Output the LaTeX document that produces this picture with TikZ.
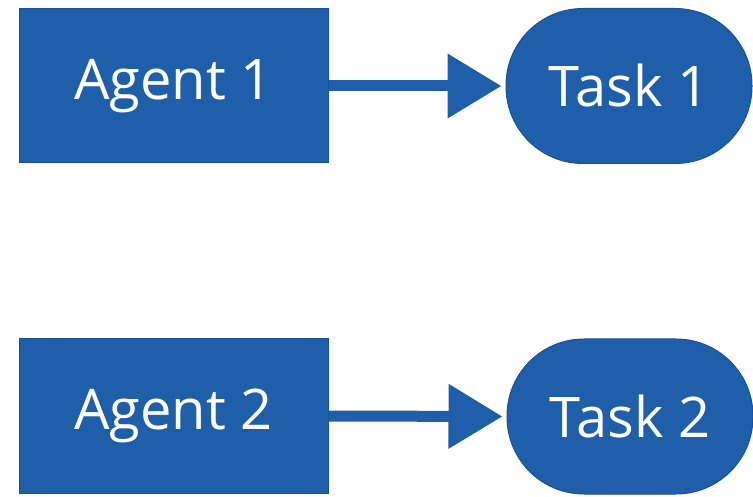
\documentclass[tikz,border=0pt]{standalone}
\usepackage{fontspec}
\setmainfont{Open Sans}
\usetikzlibrary{arrows.meta}
\definecolor{boxblue}{HTML}{1F5FAA}
\definecolor{edgeblue}{HTML}{1A5096}
\begin{document}
\begin{tikzpicture}[x=1pt,y=-1pt,
  agentbox/.style={rectangle, fill=boxblue, draw=edgeblue, line width=1pt,
    minimum width=309pt, minimum height=154pt, inner sep=0pt,
    text=white, font=\fontsize{56}{60}\selectfont},
  taskbox/.style={rectangle, rounded corners=77pt, fill=boxblue, draw=edgeblue, line width=1pt,
    minimum width=246pt, minimum height=155pt, inner sep=0pt,
    text=white, font=\fontsize{56}{60}\selectfont},
  link/.style={draw=boxblue, line width=11pt, -{Triangle[length=54pt,width=62pt]}, shorten >=4pt}]
\useasboundingbox (0,0) rectangle (753,497);
\fill[white] (0,0) rectangle (753,497);
\node[agentbox] (a1) at (173.5,86) {Agent 1};
\node[taskbox] (t1) at (629,86) {Task 1};
\node[agentbox] (a2) at (173.5,416) {Agent 2};
\node[taskbox] (t2) at (630,416.5) {Task 2};
\draw[link] (a1.east) -- (t1.west);
\draw[link] (a2.east) -- (t2.west);
\end{tikzpicture}
\end{document}
